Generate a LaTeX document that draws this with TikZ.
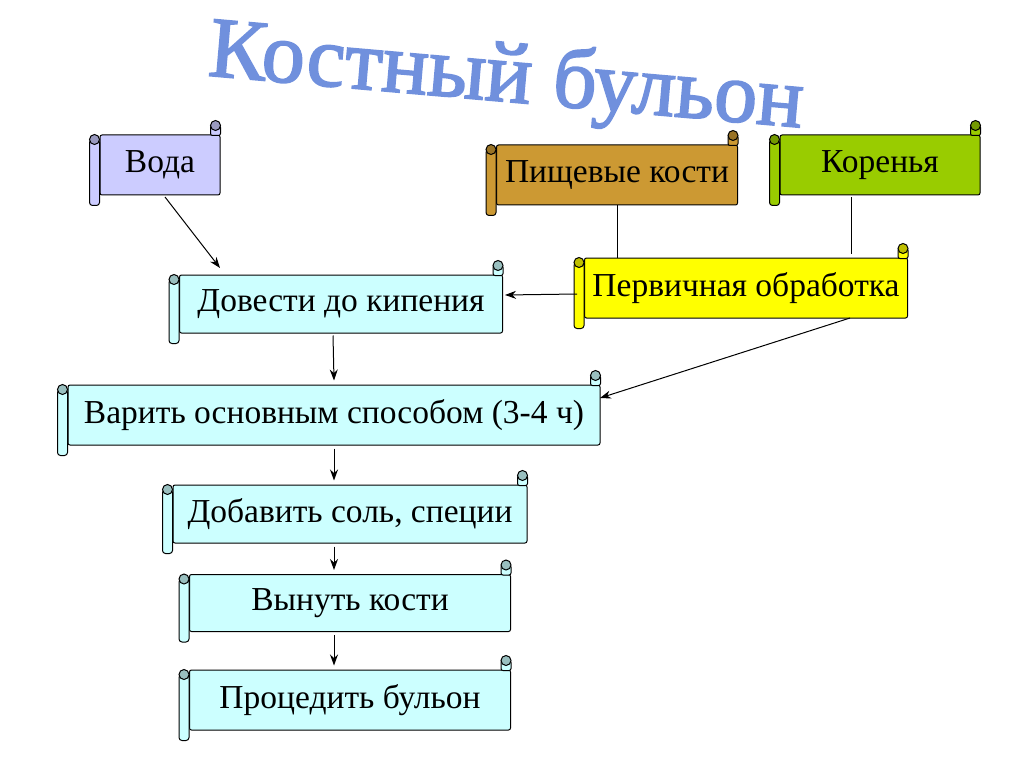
\documentclass[tikz,border=0pt]{standalone}
\usepackage{fontspec}
\setmainfont{Liberation Serif}
\usetikzlibrary{calc,arrows.meta}
\definecolor{lav}{HTML}{CCCCFF}
\definecolor{ochre}{HTML}{CC9933}
\definecolor{lime}{HTML}{99CC00}
\definecolor{yel}{HTML}{FFFF00}
\definecolor{cyn}{HTML}{CCFFFF}
\definecolor{ttl}{HTML}{7090DD}
\newcommand\scr[2]{%
 \filldraw[fill=#2,draw=black,rounded corners=2] ($(#1.north east)+(-10,1)$) rectangle ($(#1.north east)+(0,-9)$);
 \filldraw[fill=#2!75!black,draw=black] ($(#1.north east)+(-5,-9)$) circle (5);
 \filldraw[fill=#2,draw=black,rounded corners=3] ($(#1.north west)+(-10,5)$) rectangle ($(#1.south west)+(0,10)$);
 \filldraw[fill=#2!75!black,draw=black] ($(#1.north west)+(-5,5)$) circle (5);
}
\begin{document}
\begin{tikzpicture}[x=1pt,y=-1pt,line width=1pt,
 box/.style={draw=black,rounded corners=2,inner sep=0,font=\fontsize{33.5}{36}\selectfont},
 arr/.style={-{Stealth[length=11,width=8]}},
 ln/.style={}]
\useasboundingbox (0,0) rectangle (1024,767);
\node[font=\fontsize{86}{90}\selectfont,text=ttl,rotate=-5] (title) at (506,80) {\addfontfeature{FakeBold=2}Костный бульон};
\node[box,fill=lav,minimum width=120,minimum height=60] (voda) at (160,165) {Вода};
\node[box,fill=ochre,minimum width=241,minimum height=60] (kosti) at (617,175) {Пищевые кости};
\node[box,fill=lime,minimum width=200,minimum height=60] (koren) at (880,165) {Коренья};
\node[box,fill=yel,minimum width=323,minimum height=60] (perv) at (746,288) {Первичная обработка};
\node[box,fill=cyn,minimum width=323,minimum height=58] (dov) at (341,304) {Довести до кипения};
\node[box,fill=cyn,minimum width=532,minimum height=60] (var) at (334,415) {Варить основным способом (3-4 ч)};
\node[box,fill=cyn,minimum width=354,minimum height=58] (dob) at (350,514) {Добавить соль, специи};
\node[box,fill=cyn,minimum width=321,minimum height=57] (vyn) at (350,603) {Вынуть кости};
\node[box,fill=cyn,minimum width=321,minimum height=60] (pro) at (350,700) {Процедить бульон};
\foreach \n/\c in {voda/lav,kosti/ochre,koren/lime,perv/yel,dov/cyn,var/cyn,dob/cyn,vyn/cyn,pro/cyn}{\scr{\n}{\c}}
\coordinate (v1) at (165,197); \coordinate (v2) at (220,268);
\draw[arr] (v1) -- (v2);
\draw[ln] (kosti.south) -- (kosti.south |- perv.north);
\draw[ln] ($(koren.south)+(-29,2)$) -- ($(koren.south |- perv.north)+(-29,-4)$);
\draw[arr] ($(perv.west)+(-7,6)$) -- ($(dov.east)+(2,-9)$);
\coordinate (p1) at (850,318); \coordinate (p2) at (600,398);
\draw[arr] (p1) -- (p2);
\draw[arr] ($(dov.south)+(-8,2)$) -- ($(var.north)+(0,-4)$);
\draw[arr] ($(var.south)+(0,3)$) -- ($(dob.north)+(-16,-4)$);
\draw[arr] ($(dob.south)+(-16,3)$) -- ($(vyn.north)+(-16,-4)$);
\draw[arr] ($(vyn.south)+(-16,3)$) -- ($(pro.north)+(-16,-4)$);
\end{tikzpicture}
\end{document}
